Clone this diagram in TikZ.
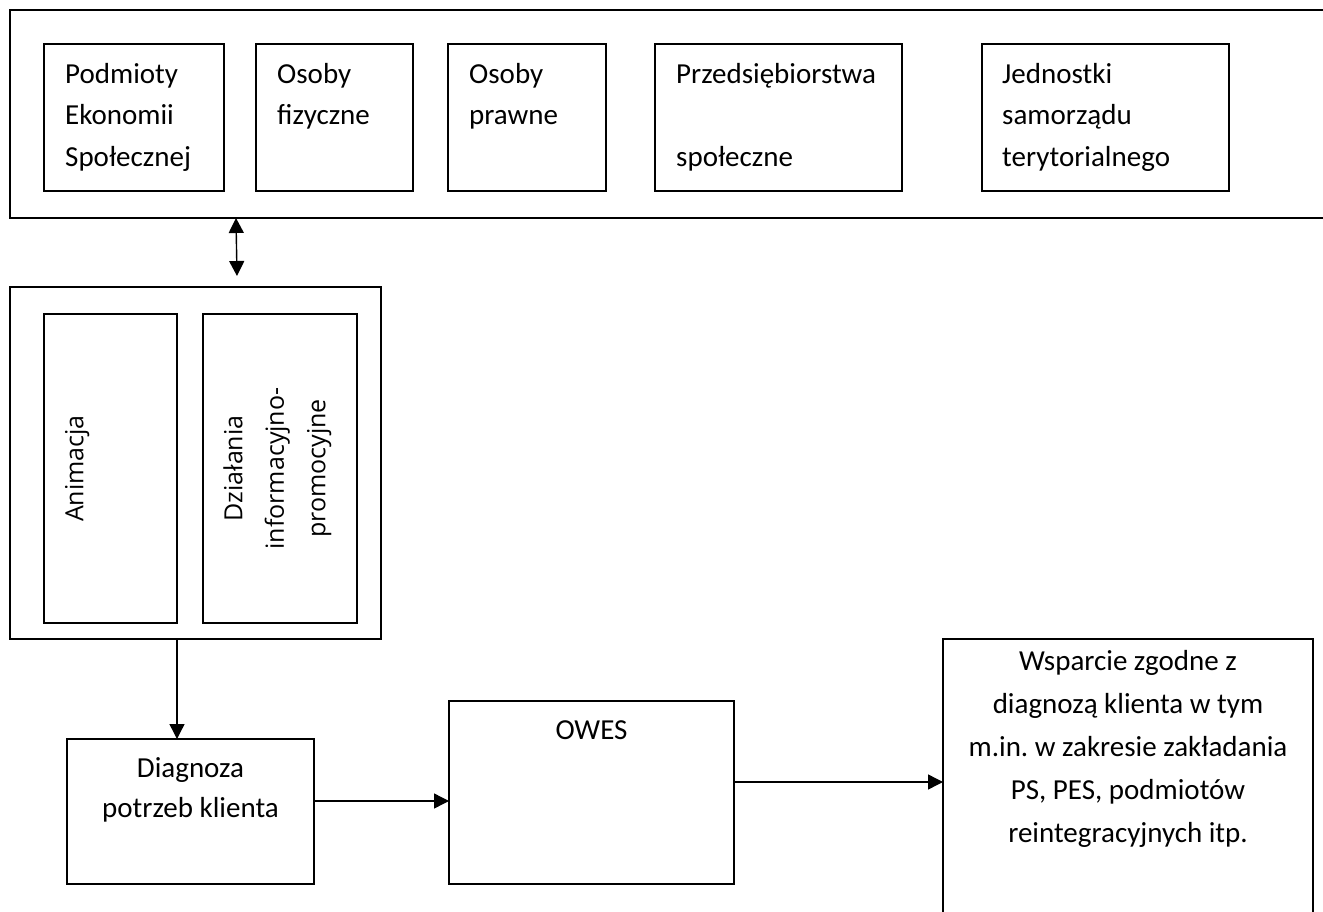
\documentclass[tikz,border=0pt]{standalone}
\usepackage{fontspec}
\setmainfont{Carlito}
\newfontfamily\rotfont{Open Sans}
\usetikzlibrary{arrows.meta,calc}
\frenchspacing

\begin{document}
\begin{tikzpicture}[x=1pt,y=-1pt,
  box/.style={draw, line width=1.6pt, rectangle, inner sep=0pt, outer sep=0pt, anchor=north west},
  lbl/.style={inner sep=0pt, align=left, anchor=north west, font=\fontsize{29}{41.5}\selectfont},
  ctr/.style={inner sep=0pt, align=center, anchor=north, font=\fontsize{29}{#1}\selectfont},
  ctr/.default=41.5,
  rot/.style={inner sep=0pt, align=center, anchor=north, rotate=90, font=\rotfont\fontsize{25}{41.5}\selectfont},
  link/.style={line width=1.4pt, -{Triangle[length=15pt,width=15pt]}},
  twoway/.style={line width=1.4pt, {Triangle[length=15pt,width=15pt]}-{Triangle[length=15pt,width=15pt]}},
]
\useasboundingbox (0,0) rectangle (1323,912);
\clip (0,0) rectangle (1323,912);

% group of client types
\node[box, minimum width=1330pt, minimum height=208pt] (grp) at (10,10) {};
\node[box, minimum width=180pt, minimum height=147pt] (pes) at (44,44) {};
\node[box, minimum width=157pt, minimum height=147pt] (fiz) at (256,44) {};
\node[box, minimum width=158pt, minimum height=147pt] (praw) at (448,44) {};
\node[box, minimum width=247pt, minimum height=147pt] (ps) at (655,44) {};
\node[box, minimum width=247pt, minimum height=147pt] (jst) at (982,44) {};

\node[lbl] (pes-t) at ($(pes.north west)+(21,10)$) {\strut Podmioty\\Ekonomii\\Społecznej};
\node[lbl] (fiz-t) at ($(fiz.north west)+(21,10)$) {\strut Osoby\\fizyczne};
\node[lbl] (praw-t) at ($(praw.north west)+(21,10)$) {\strut Osoby\\prawne};
\node[lbl] (ps-t) at ($(ps.north west)+(21,10)$) {\strut Przedsiębiorstwa\\[41.5pt]społeczne};
\node[lbl] (jst-t) at ($(jst.north west)+(20,10)$) {\strut Jednostki\\samorządu\\terytorialnego};

% animation and promotion
\node[box, minimum width=371pt, minimum height=352pt] (mid) at (10,287) {};
\node[box, minimum width=133pt, minimum height=309pt] (anim) at (44,314) {};
\node[box, minimum width=154pt, minimum height=309pt] (dzial) at (203,314) {};
\node[rot] (anim-t) at (54,468.5) {\strut Animacja};
\node[rot] (dzial-t) at (213,468.5) {\strut Działania\\informacyjno-\\promocyjne};

% process
\node[box, minimum width=247pt, minimum height=145pt] (diag) at (67,739) {};
\node[box, minimum width=285pt, minimum height=183pt] (owes) at (449,701) {};
\node[box, minimum width=370pt, minimum height=320pt] (wsp) at (943,639) {};

\node[ctr=40] (diag-t) at ($(diag.north)+(0,10)$) {\strut Diagnoza\\potrzeb klienta};
\node[ctr] (owes-t) at ($(owes.north)+(0,9)$) {\strut OWES};
\node[ctr=43] (wsp-t) at ($(wsp.north)+(0,1)$) {\strut Wsparcie zgodne z\\diagnozą klienta w tym\\m.in. w zakresie zakładania\\PS, PES, podmiotów\\reintegracyjnych itp.};

% connectors
\coordinate (dd-end) at (237,276);
\draw[twoway] (grp.south -| 236,0) -- (dd-end);
\draw[link] (mid.south -| anim.south east) -- (diag.north -| anim.south east);
\draw[link] (diag.east |- 0,801) -- (owes.west |- 0,801);
\draw[link] (owes.east |- 0,782) -- (wsp.west |- 0,782);
\end{tikzpicture}
\end{document}
